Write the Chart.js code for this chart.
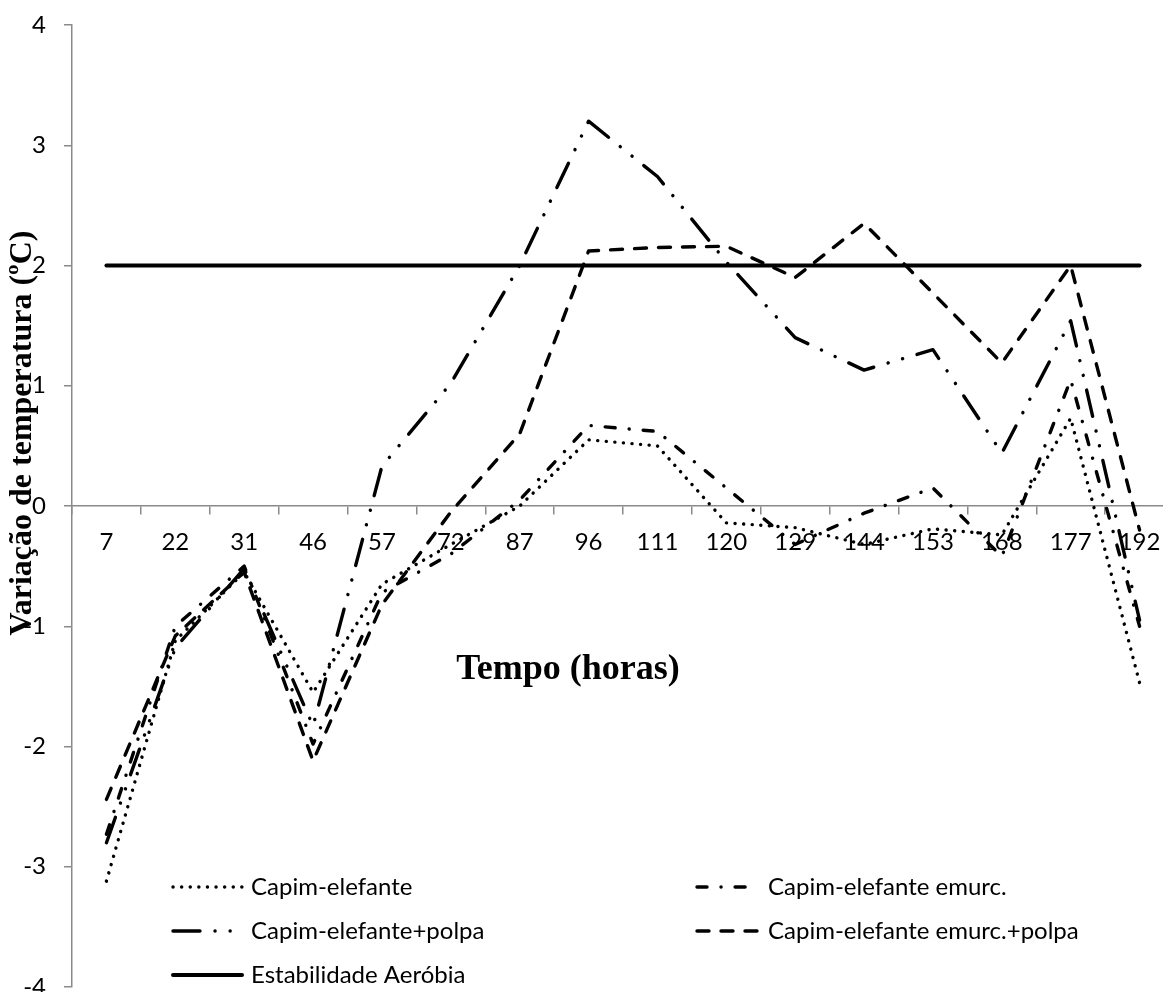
<!DOCTYPE html>
<html><head><meta charset="utf-8">
<script src="https://cdn.jsdelivr.net/npm/chart.js@4.4.1/dist/chart.umd.min.js"></script>
<style>
html,body{margin:0;padding:0;overflow:hidden;background:#fff;width:1163px;height:992px}
#wrap{position:absolute;left:0;top:-8px;width:1180px;height:1028px}
canvas{display:block}
</style></head><body>
<div id="wrap"><canvas id="c" width="1180" height="1028"></canvas></div>
<script>
// ---- data ----
const categories = ['7','22','31','46','57','72','87','96','111','120','129','144','153','168','177','192'];
const capimElefante      = [-3.12,-1.12,-0.55,-1.55,-0.65,-0.32, 0.00, 0.55, 0.50,-0.14,-0.18,-0.32,-0.19,-0.24, 0.73,-1.47];
const capimEmurc         = [-2.73,-1.00,-0.50,-1.98,-0.72,-0.40, 0.05, 0.67, 0.62, 0.15,-0.32,-0.06, 0.15,-0.42, 1.05,-1.00];
const capimPolpa         = [-2.80,-1.18,-0.52,-1.83, 0.33, 1.02, 2.00, 3.20, 2.74, 2.03, 1.40, 1.13, 1.30, 0.44, 1.54,-0.95];
const capimEmurcPolpa    = [-2.44,-1.08,-0.55,-2.12,-0.82,-0.05, 0.60, 2.12, 2.15, 2.16, 1.90, 2.35, 1.77, 1.19, 2.00,-0.20];
const estabilidade       = [2,2,2,2,2,2,2,2,2,2,2,2,2,2,2,2];
const seriesNames = ['Capim-elefante','Capim-elefante emurc.','Capim-elefante+polpa','Capim-elefante emurc.+polpa','Estabilidade Aeróbia'];
const yAxisTitle = 'Variação de temperatura (ºC)';
const xAxisTitle = 'Tempo (horas)';

// ---- styles ----
const tickFont = {family: 'Lato', size: 24};
const axisGrey = '#8a8a8a';
const OFFSET_Y = 8; // canvas shifted up by this many px
function ds(label, data, dash, width) {
  return {label, data, borderColor:'#000', backgroundColor:'#000', borderWidth: width,
    borderDash: dash, borderCapStyle:'round', borderJoinStyle:'round', pointRadius:0, tension:0, fill:false};
}
const datasets = [
  ds(seriesNames[0], capimElefante, [0.1, 8.5], 3.4),
  ds(seriesNames[1], capimEmurc, [10, 14, 0.1, 14], 3.4),
  ds(seriesNames[2], capimPolpa, [27, 15, 0.1, 15, 0.1, 15], 3.4),
  ds(seriesNames[3], capimEmurcPolpa, [12, 12], 3.4),
  ds(seriesNames[4], estabilidade, [], 4)
];

const legendLayout = [
  {i:0, x0:173, x1:242, tx:251, y:887},
  {i:1, x0:697, x1:757, tx:768, y:887},
  {i:2, x0:173, x1:242, tx:251, y:931},
  {i:3, x0:697, x1:757, tx:768, y:931},
  {i:4, x0:173, x1:242, tx:251, y:975}
];

const annotations = {
  id: 'annotations',
  afterDraw(chart) {
    const ctx = chart.ctx;
    ctx.save();
    ctx.translate(0, OFFSET_Y);
    // legend
    ctx.font = '24px Lato';
    ctx.fillStyle = '#000';
    ctx.textBaseline = 'middle';
    ctx.textAlign = 'left';
    legendLayout.forEach(l => {
      const d = chart.data.datasets[l.i];
      ctx.save();
      ctx.strokeStyle = d.borderColor;
      ctx.lineWidth = d.borderWidth;
      ctx.lineCap = 'round';
      ctx.setLineDash(d.borderDash);
      ctx.beginPath(); ctx.moveTo(l.x0, l.y); ctx.lineTo(l.x1, l.y); ctx.stroke();
      ctx.restore();
      ctx.fillText(d.label, l.tx, l.y);
    });
    // y axis title
    ctx.save();
    ctx.translate(31, 433);
    ctx.rotate(-Math.PI/2);
    ctx.font = 'bold 32px "Liberation Serif"';
    ctx.textAlign = 'center';
    ctx.textBaseline = 'alphabetic';
    ctx.fillText(yAxisTitle, 0, 0);
    ctx.restore();
    // x axis title
    ctx.font = 'bold 36px "Liberation Serif"';
    ctx.textAlign = 'center';
    ctx.textBaseline = 'middle';
    ctx.fillText(xAxisTitle, 568, 670);
    ctx.restore();
  }
};

new Chart(document.getElementById('c'), {
  type: 'line',
  data: {labels: categories, datasets},
  options: {
    responsive: false,
    animation: false,
    devicePixelRatio: 1,
    layout: {padding: {left: 0, right: 6, top: 33, bottom: 33}},
    plugins: {legend: {display: false}, tooltip: {enabled: false}},
    scales: {
      x: {
        type: 'category', offset: true, position: {y: 0},
        grid: {offset: true, drawOnChartArea: false, drawTicks: true, tickLength: 8, color: axisGrey, lineWidth: 1.5},
        border: {display: true, color: axisGrey, width: 1.5},
        ticks: {color: '#000', font: tickFont, padding: 14, autoSkip: false, maxRotation: 0}
      },
      y: {
        min: -4, max: 4,
        afterFit(s) { s.width = 72; },
        grid: {drawOnChartArea: false, drawTicks: true, tickLength: 8, color: axisGrey, lineWidth: 1.5},
        border: {display: true, color: axisGrey, width: 1.5},
        ticks: {stepSize: 1, color: '#000', font: tickFont, padding: 18}
      }
    }
  },
  plugins: [annotations]
});
</script>
</body></html>
